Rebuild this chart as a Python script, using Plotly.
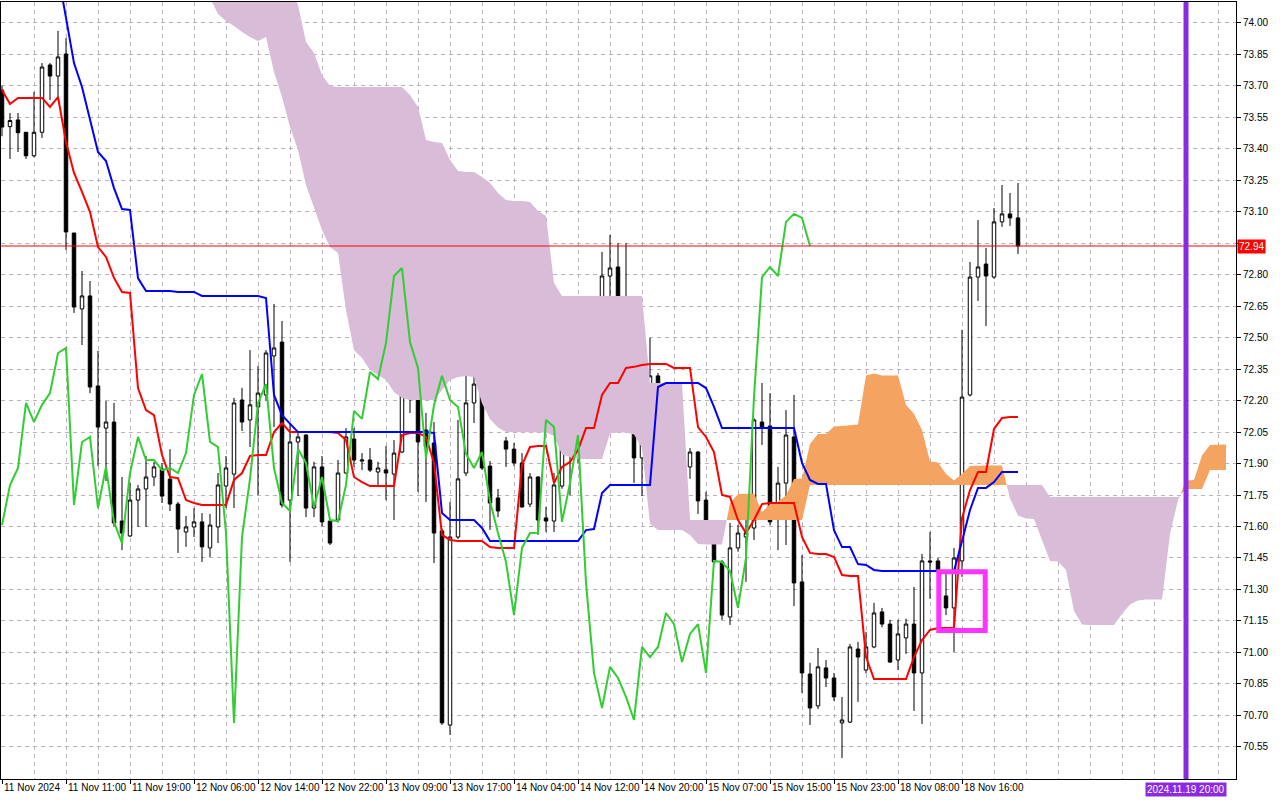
import plotly.graph_objects as go

# ---- H1 candles, bar index 0..127 ----
opens = [
    73.680, 73.506, 73.538, 73.479, 73.367, 73.479, 73.800, 73.747, 73.852, 72.999,
    72.637, 72.699, 72.270, 72.069, 72.098, 71.626, 71.555, 71.726, 71.779, 71.836,
    71.874, 71.826, 71.707, 71.574, 71.598, 71.622, 71.498, 71.598, 71.793, 71.850,
    72.203, 72.108, 72.170, 72.227, 72.413, 72.479, 71.726, 72.003, 72.036, 71.688,
    71.884, 71.626, 71.631, 71.855, 72.017, 71.912, 71.917, 71.860, 71.870, 71.850,
    71.955, 72.222, 72.318, 72.060, 71.998, 71.579, 70.654, 71.550, 71.855, 72.189,
    72.279, 71.888, 71.736, 72.008, 71.969, 71.903, 71.707, 71.836, 71.641, 71.626,
    71.793, 72.160, 72.103, 72.337, 72.318, 72.489, 72.794, 72.837, 72.489, 72.356,
    71.927, 72.179, 72.318, 72.208, 72.098, 71.936, 71.884, 71.955, 71.726, 71.569,
    71.431, 71.169, 71.498, 71.550, 71.593, 72.098, 72.079, 71.645, 71.807, 72.027,
    71.336, 70.897, 70.745, 70.926, 70.878, 70.664, 70.668, 71.016, 70.916, 71.026,
    71.193, 71.135, 70.964, 71.069, 71.135, 70.902, 71.436, 71.436, 71.269, 71.212,
    71.436, 72.227, 72.789, 72.851, 72.789, 73.052, 73.090, 73.071,
]
highs = [
    73.700, 73.571, 73.571, 73.480, 73.671, 73.809, 73.809, 73.962, 73.928, 72.999,
    72.818, 72.770, 72.437, 72.198, 72.189, 71.836, 71.807, 71.798, 71.936, 71.908,
    71.903, 71.969, 71.717, 71.650, 71.688, 71.664, 71.660, 71.855, 71.936, 72.213,
    72.261, 72.441, 72.365, 72.441, 72.661, 72.580, 72.093, 72.050, 72.040, 71.908,
    71.936, 71.630, 71.917, 72.069, 72.069, 71.950, 71.974, 71.908, 71.984, 72.012,
    72.456, 72.432, 72.432, 72.141, 72.098, 71.590, 71.717, 72.108, 72.380, 72.337,
    72.384, 71.912, 71.779, 72.027, 71.998, 71.950, 71.855, 71.840, 71.693, 71.855,
    72.227, 72.217, 72.380, 72.561, 72.508, 72.909, 72.990, 72.951, 72.951, 72.360,
    72.208, 72.499, 72.332, 72.265, 72.141, 71.979, 71.974, 71.960, 71.765, 71.575,
    71.440, 71.617, 71.607, 71.640, 72.117, 72.284, 72.236, 71.884, 72.155, 72.227,
    71.464, 70.950, 71.021, 70.964, 70.902, 70.788, 71.040, 71.050, 71.097, 71.236,
    71.212, 71.155, 71.155, 71.160, 71.312, 71.469, 71.574, 71.450, 71.374, 71.498,
    72.537, 72.861, 73.061, 72.928, 73.118, 73.228, 73.190, 73.237,
]
lows = [
    73.460, 73.352, 73.385, 73.352, 73.360, 73.452, 73.633, 73.647, 72.918, 72.618,
    72.465, 72.236, 71.888, 71.817, 71.600, 71.488, 71.550, 71.598, 71.598, 71.793,
    71.712, 71.674, 71.474, 71.503, 71.550, 71.431, 71.455, 71.521, 71.688, 71.688,
    72.055, 71.979, 71.750, 72.200, 72.074, 71.690, 71.431, 71.745, 71.645, 71.645,
    71.600, 71.512, 71.620, 71.850, 71.884, 71.869, 71.860, 71.798, 71.726, 71.631,
    71.950, 72.141, 71.765, 71.717, 71.426, 70.654, 70.606, 71.540, 71.840, 72.093,
    71.870, 71.584, 71.645, 71.884, 71.888, 71.690, 71.693, 71.560, 71.574, 71.574,
    71.780, 71.750, 71.903, 72.194, 72.155, 72.460, 72.623, 72.380, 72.141, 71.808,
    71.745, 72.170, 72.180, 72.141, 71.903, 71.836, 71.827, 71.660, 71.540, 71.420,
    71.155, 71.131, 71.480, 71.336, 71.536, 71.989, 71.607, 71.488, 71.512, 71.221,
    70.807, 70.654, 70.730, 70.835, 70.768, 70.497, 70.664, 70.764, 70.900, 71.020,
    71.120, 70.950, 70.916, 70.993, 70.721, 70.659, 71.255, 71.360, 71.178, 71.002,
    71.360, 72.220, 72.675, 72.556, 72.780, 73.028, 73.033, 72.899,
]
closes = [
    73.504, 73.535, 73.477, 73.367, 73.479, 73.790, 73.747, 73.838, 73.004, 72.646,
    72.699, 72.265, 72.074, 72.098, 71.617, 71.569, 71.726, 71.779, 71.836, 71.884,
    71.745, 71.707, 71.588, 71.598, 71.622, 71.503, 71.607, 71.798, 71.879, 72.189,
    72.098, 72.180, 72.236, 72.427, 72.451, 71.703, 72.003, 72.027, 71.688, 71.884,
    71.622, 71.521, 71.855, 72.027, 71.917, 71.917, 71.869, 71.879, 71.855, 71.950,
    72.227, 72.327, 72.003, 71.979, 71.569, 70.664, 71.550, 71.827, 72.189, 72.279,
    71.879, 71.712, 71.674, 71.969, 71.903, 71.693, 71.836, 71.631, 71.626, 71.798,
    72.151, 72.113, 72.337, 72.303, 72.475, 72.794, 72.832, 72.479, 72.356, 71.927,
    72.179, 72.318, 72.203, 72.170, 71.946, 71.879, 71.955, 71.722, 71.569, 71.431,
    71.178, 71.498, 71.569, 71.570, 72.108, 72.074, 71.622, 71.807, 72.036, 71.331,
    70.902, 70.735, 70.931, 70.878, 70.788, 70.678, 71.026, 70.978, 71.026, 71.188,
    71.135, 70.954, 71.088, 71.135, 70.902, 71.436, 71.431, 71.388, 71.212, 71.450,
    72.217, 72.789, 72.837, 72.794, 73.052, 73.090, 73.071, 72.937,
]

# ---- Ichimoku lines ----
tenkan = [
    73.681, 73.614, 73.643, 73.643, 73.643, 73.643, 73.600, 73.647, 73.433, 73.285,
    73.195, 73.099, 72.932, 72.885, 72.785, 72.718, 72.713, 72.260, 72.155, 72.131,
    71.941, 71.836, 71.831, 71.726, 71.712, 71.703, 71.703, 71.703, 71.703, 71.822,
    71.855, 71.936, 71.941, 71.941, 72.050, 72.093, 72.050, 72.050, 72.050, 72.050,
    72.050, 72.050, 72.046, 72.012, 71.836, 71.812, 71.793, 71.793, 71.793, 71.793,
    72.036, 72.046, 72.046, 72.027, 71.903, 71.560, 71.536, 71.531, 71.531, 71.531,
    71.531, 71.502, 71.498, 71.498, 71.498, 71.893, 71.979, 71.984, 71.984, 71.807,
    71.884, 71.908, 71.965, 72.069, 72.069, 72.227, 72.284, 72.284, 72.356, 72.361,
    72.370, 72.375, 72.375, 72.375, 72.356, 72.356, 72.356, 72.074, 72.027, 71.955,
    71.750, 71.741, 71.631, 71.569, 71.631, 71.707, 71.712, 71.712, 71.712, 71.712,
    71.550, 71.474, 71.469, 71.469, 71.455, 71.369, 71.364, 71.364, 70.978, 70.873,
    70.873, 70.873, 70.873, 70.873, 70.978, 71.059, 71.107, 71.116, 71.116, 71.116,
    71.640, 71.774, 71.860, 71.860, 72.065, 72.117, 72.122, 72.122,
]
kijun = [
    74.280, 74.280, 74.280, 74.280, 74.280, 74.280, 74.280, 74.240, 74.024, 73.809,
    73.695, 73.547, 73.385, 73.342, 73.213, 73.113, 73.109, 72.784, 72.722, 72.722,
    72.722, 72.722, 72.718, 72.718, 72.718, 72.699, 72.699, 72.699, 72.699, 72.699,
    72.699, 72.699, 72.699, 72.689, 72.227, 72.131, 72.093, 72.050, 72.050, 72.050,
    72.050, 72.050, 72.050, 72.050, 72.050, 72.050, 72.050, 72.050, 72.050, 72.050,
    72.050, 72.050, 72.050, 72.050, 72.046, 71.664, 71.631, 71.631, 71.631, 71.631,
    71.593, 71.531, 71.531, 71.531, 71.531, 71.531, 71.531, 71.531, 71.531, 71.531,
    71.531, 71.531, 71.531, 71.583, 71.588, 71.760, 71.798, 71.798, 71.798, 71.798,
    71.798, 71.798, 72.265, 72.284, 72.284, 72.284, 72.284, 72.284, 72.260, 72.170,
    72.069, 72.069, 72.069, 72.069, 72.069, 72.069, 72.069, 72.069, 72.069, 72.069,
    71.903, 71.822, 71.803, 71.803, 71.583, 71.502, 71.502, 71.421, 71.417, 71.393,
    71.388, 71.388, 71.388, 71.388, 71.388, 71.388, 71.388, 71.388, 71.388, 71.388,
    71.530, 71.679, 71.784, 71.784, 71.812, 71.860, 71.860, 71.860,
]
# Senkou spans as displayed, starting at bar 26 and running 26 bars past the last candle
cloud_start = 26
senkou_a = [
    74.120, 74.043, 74.010, 73.986, 73.957, 73.933, 73.914, 73.933, 73.766, 73.647,
    73.504, 73.395, 73.228, 73.118, 73.013, 72.932, 72.904, 72.632, 72.441, 72.403,
    72.346, 72.322, 72.298, 72.241, 72.213, 72.203, 72.203, 72.203, 72.203, 72.251,
    72.298, 72.313, 72.318, 72.313, 72.187, 72.113, 72.072, 72.050, 72.050, 72.050,
    72.050, 72.050, 72.048, 72.031, 71.943, 71.931, 71.922, 71.922, 71.922, 71.922,
    72.043, 72.048, 72.048, 72.038, 71.974, 71.612, 71.583, 71.583, 71.583, 71.583,
    71.560, 71.517, 71.514, 71.514, 71.514, 71.712, 71.755, 71.757, 71.757, 71.669,
    71.707, 71.719, 71.748, 71.826, 71.829, 71.993, 72.041, 72.041, 72.077, 72.079,
    72.084, 72.086, 72.320, 72.329, 72.320, 72.320, 72.320, 72.179, 72.138, 72.060,
    71.910, 71.905, 71.850, 71.819, 71.850, 71.888, 71.891, 71.891, 71.891, 71.891,
    71.734, 71.653, 71.638, 71.636, 71.536, 71.436, 71.433, 71.393, 71.197, 71.133,
    71.131, 71.131, 71.131, 71.131, 71.183, 71.228, 71.247, 71.252, 71.252, 71.252,
    71.564, 71.726, 71.819, 71.822, 71.939, 71.989, 71.991, 71.991,
]
senkou_b = [
    74.450, 74.450, 74.450, 74.450, 74.450, 74.450, 74.450, 74.450, 74.450, 74.450,
    74.200, 74.086, 73.909, 73.857, 73.752, 73.700, 73.695, 73.695, 73.695, 73.695,
    73.695, 73.695, 73.695, 73.695, 73.695, 73.657, 73.600, 73.442, 73.433, 73.428,
    73.347, 73.294, 73.290, 73.290, 73.266, 73.237, 73.190, 73.156, 73.152, 73.152,
    73.147, 73.104, 73.080, 72.761, 72.699, 72.699, 72.699, 72.699, 72.699, 72.699,
    72.699, 72.699, 72.699, 72.699, 72.699, 72.284, 72.284, 72.284, 72.284, 72.284,
    71.631, 71.631, 71.631, 71.631, 71.631, 71.631, 71.631, 71.631, 71.631, 71.631,
    71.631, 71.631, 71.631, 71.631, 71.631, 71.798, 71.798, 71.798, 71.798, 71.798,
    71.798, 71.798, 71.798, 71.798, 71.798, 71.798, 71.798, 71.798, 71.798, 71.798,
    71.798, 71.798, 71.798, 71.798, 71.798, 71.798, 71.798, 71.798, 71.798, 71.798,
    71.798, 71.798, 71.798, 71.798, 71.798, 71.741, 71.741, 71.741, 71.741, 71.741,
    71.741, 71.741, 71.741, 71.741, 71.741, 71.741, 71.741, 71.741, 71.741, 71.741,
    71.741, 71.741, 71.779, 71.779, 71.779, 71.869, 71.869, 71.869,
]
chikou_shift = 26

# ---- axis text ----
date_label_bars = [0, 8, 16, 24, 32, 40, 48, 56, 64, 72, 80, 88, 96, 104, 112, 120]
date_labels = [
    "11 Nov 2024", "11 Nov 11:00", "11 Nov 19:00", "12 Nov 06:00",
    "12 Nov 14:00", "12 Nov 22:00", "13 Nov 09:00", "13 Nov 17:00",
    "14 Nov 04:00", "14 Nov 12:00", "14 Nov 20:00", "15 Nov 07:00",
    "15 Nov 15:00", "15 Nov 23:00", "18 Nov 08:00", "18 Nov 16:00",
]
price_ticks = [
    74.00, 73.85, 73.70, 73.55, 73.40, 73.25, 73.10, 72.95, 72.80, 72.65, 72.50, 72.35,
    72.20, 72.05, 71.90, 71.75, 71.60, 71.45, 71.30, 71.15, 71.00, 70.85, 70.70, 70.55,
]
bid_price = 72.937
bid_text = "72.94"
vline_bar = 148
vline_text = "2024.11.19 20:00"
box_bars = [117.1, 122.9]
box_prices = [71.104, 71.385]

FONT = "Liberation Sans, Arial, sans-serif"
GRID = "#bdb0bd"
BEAR_CLOUD = "#d8bcd8"
BULL_CLOUD = "#f4a460"

n = len(closes)
bars = list(range(n))
cloud_x = list(range(cloud_start, cloud_start + len(senkou_a)))


def cloud_pieces(xs, a, b):
    """split the band between span A and span B where the two lines cross"""
    pieces = []
    up = a[0] >= b[0]
    px, pa, pb = [xs[0]], [a[0]], [b[0]]
    for i in range(1, len(xs)):
        now_up = a[i] >= b[i]
        if now_up != up:
            d0 = a[i - 1] - b[i - 1]
            d1 = a[i] - b[i]
            t = d0 / (d0 - d1)
            xc = xs[i - 1] + t * (xs[i] - xs[i - 1])
            yc = a[i - 1] + t * (a[i] - a[i - 1])
            px.append(xc); pa.append(yc); pb.append(yc)
            pieces.append((up, px, pa, pb))
            px, pa, pb = [xc], [yc], [yc]
            up = now_up
        px.append(xs[i]); pa.append(a[i]); pb.append(b[i])
    pieces.append((up, px, pa, pb))
    return pieces


fig = go.Figure()

for up, px, pa, pb in cloud_pieces(cloud_x, senkou_a, senkou_b):
    fig.add_trace(go.Scatter(
        x=px + px[::-1], y=pa + pb[::-1],
        fill="toself", fillcolor=BULL_CLOUD if up else BEAR_CLOUD,
        mode="lines", line=dict(width=0), hoverinfo="skip",
    ))

fig.add_trace(go.Candlestick(
    x=bars, open=opens, high=highs, low=lows, close=closes,
    increasing=dict(fillcolor="white", line=dict(color="black", width=1)),
    decreasing=dict(fillcolor="black", line=dict(color="black", width=1)),
    whiskerwidth=0, hoverinfo="skip",
))

fig.add_trace(go.Scatter(x=bars, y=tenkan, mode="lines",
                         line=dict(color="#ff0000", width=2), hoverinfo="skip"))
fig.add_trace(go.Scatter(x=bars, y=kijun, mode="lines",
                         line=dict(color="#0000ff", width=2), hoverinfo="skip"))
fig.add_trace(go.Scatter(x=bars[:n - chikou_shift], y=closes[chikou_shift:], mode="lines",
                         line=dict(color="#32cd32", width=2), hoverinfo="skip"))

# bid line, vertical marker line, drawn box
fig.add_shape(type="line", xref="paper", x0=0, x1=1, y0=bid_price, y1=bid_price,
              line=dict(color="#ff0000", width=1), layer="above")
fig.add_shape(type="line", yref="paper", x0=vline_bar, x1=vline_bar, y0=0, y1=1,
              line=dict(color="#8a2be2", width=5), layer="above")
fig.add_shape(type="rect", x0=box_bars[0], x1=box_bars[1], y0=box_prices[0], y1=box_prices[1],
              line=dict(color="#ff33ff", width=5), fillcolor="rgba(0,0,0,0)", layer="above")

annotations = []
for b, t in zip(date_label_bars, date_labels):
    annotations.append(dict(
        x=b, y=0, xref="x", yref="paper", text=t, showarrow=False,
        xanchor="left", yanchor="top", xshift=0, yshift=-1,
        font=dict(family=FONT, size=10, color="black"),
    ))
annotations.append(dict(
    x=vline_bar, y=0, xref="x", yref="paper", text=vline_text, showarrow=False,
    xanchor="center", yanchor="top", yshift=-3, bgcolor="#8a2be2", borderpad=1,
    font=dict(family=FONT, size=10, color="white"),
))
annotations.append(dict(
    x=1, y=bid_price, xref="paper", yref="y", text=bid_text, showarrow=False,
    xanchor="left", yanchor="middle", xshift=1, bgcolor="#ff0000", borderpad=1,
    font=dict(family=FONT, size=10, color="white"),
))

# the bid label sits over the price-scale label nearest to it, as on the terminal
tick_text = ["" if abs(p - bid_price) < 0.05 else f"{p:.2f}" for p in price_ticks]

fig.update_layout(
    width=1280, height=800,
    margin=dict(l=1, r=44, t=2, b=21),
    paper_bgcolor="white", plot_bgcolor="white",
    showlegend=False, boxgap=0.38,
    annotations=annotations,
    font=dict(family=FONT, size=10, color="black"),
    xaxis=dict(
        range=[-0.125, 154.25], rangeslider=dict(visible=False),
        tickvals=date_label_bars, showticklabels=False,
        ticks="outside", ticklen=4, tickcolor="black",
        showgrid=True, gridcolor=GRID, griddash="4px,4px", gridwidth=1,
        minor=dict(tick0=0, dtick=4, showgrid=True, gridcolor=GRID,
                   griddash="4px,4px", gridwidth=1, ticks=""),
        showline=True, linecolor="black", linewidth=1, mirror=True,
        zeroline=False, fixedrange=True,
    ),
    yaxis=dict(
        side="right", range=[70.3966, 74.100],
        tickvals=price_ticks, ticktext=tick_text,
        ticks="outside", ticklen=4, tickcolor="black",
        tickfont=dict(family=FONT, size=10, color="black"),
        showgrid=True, gridcolor=GRID, griddash="4px,4px", gridwidth=1,
        showline=True, linecolor="black", linewidth=1, mirror=True,
        zeroline=False, fixedrange=True,
    ),
)

fig.write_html("out.html", config={"displayModeBar": False},
               post_script="document.body.style.margin='0';")
